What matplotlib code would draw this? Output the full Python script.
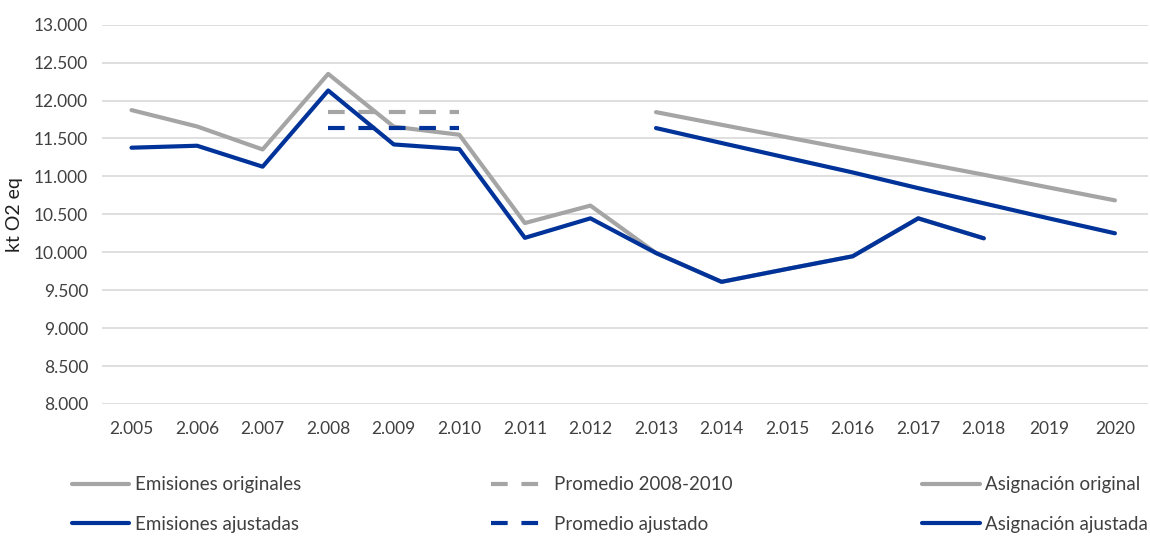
import matplotlib
matplotlib.use("Agg")
import matplotlib.pyplot as plt
from matplotlib.ticker import FuncFormatter
import numpy as np

# Categories on the x axis
years = ["2.005", "2.006", "2.007", "2.008", "2.009", "2.010", "2.011", "2.012",
         "2.013", "2.014", "2.015", "2.016", "2.017", "2.018", "2019", "2020"]

# Emissions (kt CO2 eq), 2005-2018
emisiones_originales = [11874, 11658, 11355, 12351, 11655, 11549, 10385, 10615,
                        9990, 9610, 9780, 9947, 10447, 10184]
emisiones_ajustadas = [11378, 11404, 11128, 12132, 11421, 11360, 10190, 10447,
                       9990, 9610, 9780, 9947, 10447, 10184]

# Averages 2008-2010
promedio_2008_2010 = [11851, 11851, 11851]
promedio_ajustado = [11637, 11637, 11637]

# Allocation 2013-2020
asignacion_original = [11847, 11680, 11515, 11350, 11187, 11022, 10852, 10684]
asignacion_ajustada = [11637, 11440, 11245, 11052, 10845, 10645, 10445, 10250]

GRAY = "#A5A5A5"
BLUE = "#003399"
TEXT = "#404040"

plt.rcParams["font.family"] = ["Lato", "DejaVu Sans"]

fig = plt.figure(figsize=(11.5, 5.36), dpi=100)
ax = fig.add_axes([0.0887, 0.2463, 0.9093, 0.7077])

x = np.arange(len(years))
lw = 3.0
dash = (0, (4, 3.3))

l_eo, = ax.plot(x[:len(emisiones_originales)], emisiones_originales, color=GRAY, lw=lw,
                solid_capstyle="round", solid_joinstyle="round", label="Emisiones originales", zorder=3)
l_p, = ax.plot(x[3:6], promedio_2008_2010, color=GRAY, lw=lw, linestyle=dash,
               label="Promedio 2008-2010", zorder=3)
l_ao, = ax.plot(x[8:], asignacion_original, color=GRAY, lw=lw, solid_capstyle="round",
                solid_joinstyle="round", label="Asignación original", zorder=3)
l_ea, = ax.plot(x[:len(emisiones_ajustadas)], emisiones_ajustadas, color=BLUE, lw=lw,
                solid_capstyle="round", solid_joinstyle="round", label="Emisiones ajustadas", zorder=4)
l_pa, = ax.plot(x[3:6], promedio_ajustado, color=BLUE, lw=lw, linestyle=dash,
                label="Promedio ajustado", zorder=4)
l_aa, = ax.plot(x[8:], asignacion_ajustada, color=BLUE, lw=lw, solid_capstyle="round",
                solid_joinstyle="round", label="Asignación ajustada", zorder=4)

ax.set_xlim(-0.45, len(years) - 0.5)
ax.set_ylim(8000, 13000)
ax.set_yticks(np.arange(8000, 13001, 500))
ax.yaxis.set_major_formatter(FuncFormatter(lambda v, p: f"{v:,.0f}".replace(",", ".")))
ax.set_xticks(x)
ax.set_xticklabels(years)

ax.grid(axis="y", color="#D9D9D9", lw=1.2)
ax.set_axisbelow(True)
for s in ax.spines.values():
    s.set_visible(False)
ax.tick_params(axis="both", length=0, labelsize=12.5, colors=TEXT)
ax.tick_params(axis="x", pad=12)
ax.tick_params(axis="y", pad=10)
ax.set_ylabel("kt O2 eq", fontsize=14, color="#202020", labelpad=8)

handles = [l_eo, l_ea, l_p, l_pa, l_ao, l_aa]
fig.legend(handles=handles, labels=[h.get_label() for h in handles],
           ncol=3, loc="center", bbox_to_anchor=(0.0626, 0.024, 0.9357, 0.07),
           mode="expand", frameon=False, fontsize=13.5, handlelength=3.05,
           handletextpad=0.3, labelspacing=1.2, borderpad=0, borderaxespad=0,
           labelcolor=TEXT)

fig.savefig("out.png", dpi=100)
